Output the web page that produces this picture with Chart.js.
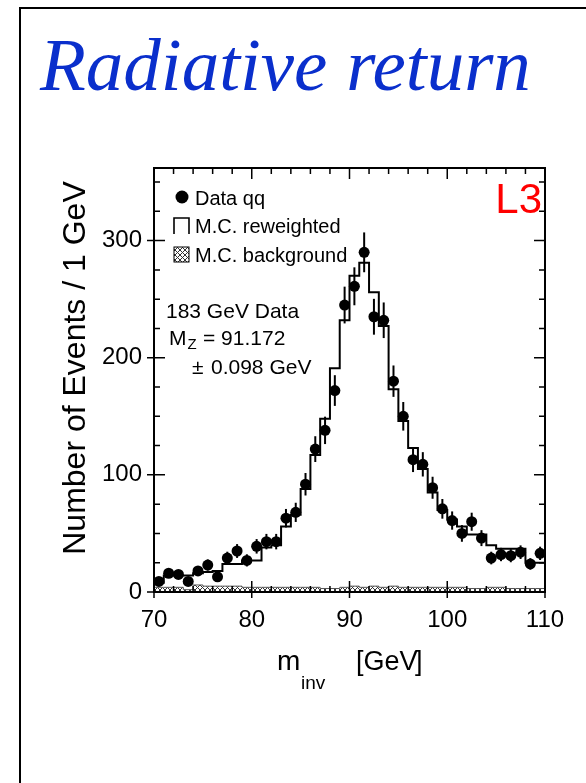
<!DOCTYPE html>
<html>
<head>
<meta charset="utf-8">
<script src="https://cdn.jsdelivr.net/npm/chart.js@4.4.0/dist/chart.umd.min.js"></script>
<style>
  html, body { margin: 0; padding: 0; background: #fff; width: 586px; height: 783px; overflow: hidden; }
  #frame { position: absolute; left: 19px; top: 7px; width: 620px; height: 820px; border-left: 2px solid #000; border-top: 2px solid #000; }
  #title { position: absolute; left: 40px; top: 28px; font: italic 75px "Liberation Serif", "Times New Roman", serif; line-height: 74px; color: #0a2fcc; white-space: nowrap; z-index: 2; }
  #chart { position: absolute; left: 0; top: 0; }
</style>
</head>
<body>
<div id="frame"></div>
<div id="title">Radiative return</div>
<canvas id="chart" width="586" height="783"></canvas>
<script>
// ---- data ----
const categories = [70.5, 71.5, 72.5, 73.5, 74.5, 75.5, 76.5, 77.5, 78.5, 79.5,
                    80.5, 81.5, 82.5, 83.5, 84.5, 85.5, 86.5, 87.5, 88.5, 89.5,
                    90.5, 91.5, 92.5, 93.5, 94.5, 95.5, 96.5, 97.5, 98.5, 99.5,
                    100.5, 101.5, 102.5, 103.5, 104.5, 105.5, 106.5, 107.5, 108.5, 109.5];
const dataCounts = [9, 16, 15, 9, 18, 23, 13, 29, 35, 27,
                    39, 43, 43, 63, 68, 92, 122, 138, 172, 245,
                    261, 290, 235, 232, 180, 150, 113, 109, 89, 71,
                    61, 50, 60, 46, 29, 32, 31, 34, 24, 33];
const dataErrors = [3, 4, 3.9, 3, 4.2, 4.8, 3.6, 5.4, 5.9, 5.2,
                    6.2, 6.6, 6.6, 7.9, 8.2, 9.6, 11, 11.7, 13.1, 15.7,
                    16.2, 17, 15.3, 15.2, 13.4, 12.2, 10.6, 10.4, 9.4, 8.4,
                    7.8, 7.1, 7.7, 6.8, 5.4, 5.7, 5.6, 5.8, 4.9, 5.7];
const mcReweighted = [8, 14, 14, 14, 16, 17, 18, 24, 24, 27,
                      27, 38, 40, 56, 66, 88, 117, 148, 191, 232,
                      270, 281, 256, 227, 173, 146, 123, 105, 85, 70,
                      62, 56, 49, 49, 40, 37, 37, 37, 25, 25];
const mcBackground = [4, 4, 4, 2, 6, 5, 5, 5, 5, 4,
                      4, 4, 4, 4, 4, 4, 4, 3, 3, 4,
                      5, 4, 5, 4, 5, 4, 4, 4, 4, 4,
                      4, 4, 3, 3, 4, 4, 3, 3, 3, 3];
const xTickValues = [70, 80, 90, 100, 110];
const yTickValues = [0, 100, 200, 300];
const xRange = [70, 110];
const yRange = [0, 362];
const binWidth = 1;

// ---- helpers ----
function histPoints(vals) {
  const pts = categories.map((c, i) => ({ x: c - binWidth / 2, y: vals[i] }));
  pts.push({ x: categories[categories.length - 1] + binWidth / 2, y: vals[vals.length - 1] });
  return pts;
}
function makeHatch() {
  const c = document.createElement('canvas');
  c.width = 5; c.height = 5;
  const g = c.getContext('2d');
  g.fillStyle = '#fff'; g.fillRect(0, 0, 5, 5);
  g.strokeStyle = '#333'; g.lineWidth = 1;
  g.beginPath();
  g.moveTo(0, 0); g.lineTo(5, 5);
  g.moveTo(5, 0); g.lineTo(0, 5);
  g.stroke();
  return c;
}
const hatchCanvas = makeHatch();
const ctx = document.getElementById('chart').getContext('2d');
const hatch = ctx.createPattern(hatchCanvas, 'repeat');

const FONT = '"Liberation Sans", Arial, Helvetica, sans-serif';

const decorPlugin = {
  id: 'decor',
  beforeDatasetDraw(chart, args) {
    if (args.index !== 2) return;
    const meta = chart.getDatasetMeta(2);
    const ys = chart.scales.y;
    const c = chart.ctx;
    c.save();
    c.beginPath();
    c.rect(chart.chartArea.left, chart.chartArea.top, chart.chartArea.width, chart.chartArea.height);
    c.clip();
    c.strokeStyle = '#000';
    c.lineWidth = 2;
    meta.data.forEach((pt, i) => {
      const y1 = ys.getPixelForValue(dataCounts[i] + dataErrors[i]);
      const y2 = ys.getPixelForValue(dataCounts[i] - dataErrors[i]);
      c.beginPath();
      c.moveTo(pt.x, y1);
      c.lineTo(pt.x, y2);
      c.stroke();
    });
    c.restore();
  },
  afterDraw(chart) {
    const c = chart.ctx;
    const a = chart.chartArea;
    const xs = chart.scales.x, ys = chart.scales.y;
    c.save();
    // frame
    c.strokeStyle = '#000';
    c.lineWidth = 2;
    c.strokeRect(a.left, a.top, a.right - a.left, a.bottom - a.top);
    // ticks
    c.lineWidth = 1.5;
    c.beginPath();
    for (let v = xRange[0]; v <= xRange[1]; v += 2) {
      const x = xs.getPixelForValue(v);
      const major = xTickValues.includes(v);
      const L = major ? 11 : 6;
      c.moveTo(x, a.bottom + (major ? 6 : 0)); c.lineTo(x, a.bottom - L);
      c.moveTo(x, a.top); c.lineTo(x, a.top + L);
    }
    for (let v = yRange[0]; v <= yRange[1]; v += 25) {
      const y = ys.getPixelForValue(v);
      const major = yTickValues.includes(v);
      const L = major ? 11 : 6;
      c.moveTo(a.left - (major ? 7 : 0), y); c.lineTo(a.left + L, y);
      c.moveTo(a.right, y); c.lineTo(a.right - L, y);
    }
    c.stroke();

    // legend
    c.fillStyle = '#000';
    c.beginPath();
    c.arc(182, 197, 6.5, 0, Math.PI * 2);
    c.fill();
    c.lineWidth = 1.6;
    c.beginPath();
    c.moveTo(174, 234); c.lineTo(174, 218); c.lineTo(189, 218); c.lineTo(189, 234);
    c.stroke();
    c.fillStyle = hatch;
    c.fillRect(174, 247, 15, 15);
    c.lineWidth = 1;
    c.strokeRect(174, 247, 15, 15);
    c.fillStyle = '#000';
    c.font = '20px ' + FONT;
    c.textAlign = 'left';
    c.textBaseline = 'alphabetic';
    c.fillText(chart.data.datasets[2].label, 195, 205);
    c.fillText(chart.data.datasets[1].label, 195, 233);
    c.fillText(chart.data.datasets[0].label, 195, 262);

    // info text
    c.font = '21px ' + FONT;
    c.fillText('183 GeV Data', 166, 318);
    c.fillText('M', 169, 345);
    const mw = c.measureText('M').width;
    c.font = '15px ' + FONT;
    c.fillText('Z', 169 + mw + 1, 349);
    c.font = '21px ' + FONT;
    c.fillText('= 91.172', 203, 345);
    c.fillText('\u00B1', 192, 374);
    c.fillText('0.098 GeV', 211, 374);

    // L3
    c.fillStyle = '#ff0000';
    c.font = '42px ' + FONT;
    c.textAlign = 'right';
    c.fillText('L3', 542, 213);

    // axis titles
    c.fillStyle = '#000';
    c.textAlign = 'left';
    c.font = '28px ' + FONT;
    c.fillText('m', 277, 670);
    c.font = '19px ' + FONT;
    c.fillText('inv', 301, 689);
    c.font = '27px ' + FONT;
    c.fillText('[GeV', 356, 670);
    c.fillText(']', 415, 670);

    c.save();
    c.translate(85, 368);
    c.rotate(-Math.PI / 2);
    c.textAlign = 'center';
    c.font = '32px ' + FONT;
    c.fillText('Number of Events / 1 GeV', 0, 0);
    c.restore();
    c.restore();
  }
};

new Chart(ctx, {
  type: 'line',
  data: {
    datasets: [
      { label: 'M.C. background', data: histPoints(mcBackground), stepped: true, fill: 'origin',
        backgroundColor: hatch, borderColor: '#555', borderWidth: 1, pointRadius: 0, order: 3 },
      { label: 'M.C. reweighted', data: histPoints(mcReweighted), stepped: true, fill: false,
        borderColor: '#000', borderWidth: 2, pointRadius: 0, order: 2 },
      { label: 'Data qq', data: categories.map((c, i) => ({ x: c, y: dataCounts[i] })), showLine: false,
        pointRadius: 5.5, pointBackgroundColor: '#000', pointBorderColor: '#000', pointBorderWidth: 0, order: 1 }
    ]
  },
  options: {
    responsive: false,
    animation: false,
    devicePixelRatio: 1,
    layout: { padding: { left: 0, top: 168, right: 41, bottom: 131 } },
    plugins: { legend: { display: false }, tooltip: { enabled: false } },
    scales: {
      x: {
        type: 'linear', min: xRange[0], max: xRange[1],
        afterBuildTicks(s) { s.ticks = xTickValues.map(v => ({ value: v })); },
        grid: { display: false, drawTicks: false }, border: { display: false },
        ticks: { padding: 14, color: '#000', font: { family: FONT, size: 24 } },
        afterFit(s) { s.height = 60; }
      },
      y: {
        type: 'linear', min: yRange[0], max: yRange[1],
        afterBuildTicks(s) { s.ticks = yTickValues.map(v => ({ value: v })); },
        grid: { display: false, drawTicks: false }, border: { display: false },
        ticks: { padding: 12, color: '#000', font: { family: FONT, size: 24 } },
        afterFit(s) { s.width = 154; }
      }
    }
  },
  plugins: [decorPlugin]
});
</script>
</body>
</html>
